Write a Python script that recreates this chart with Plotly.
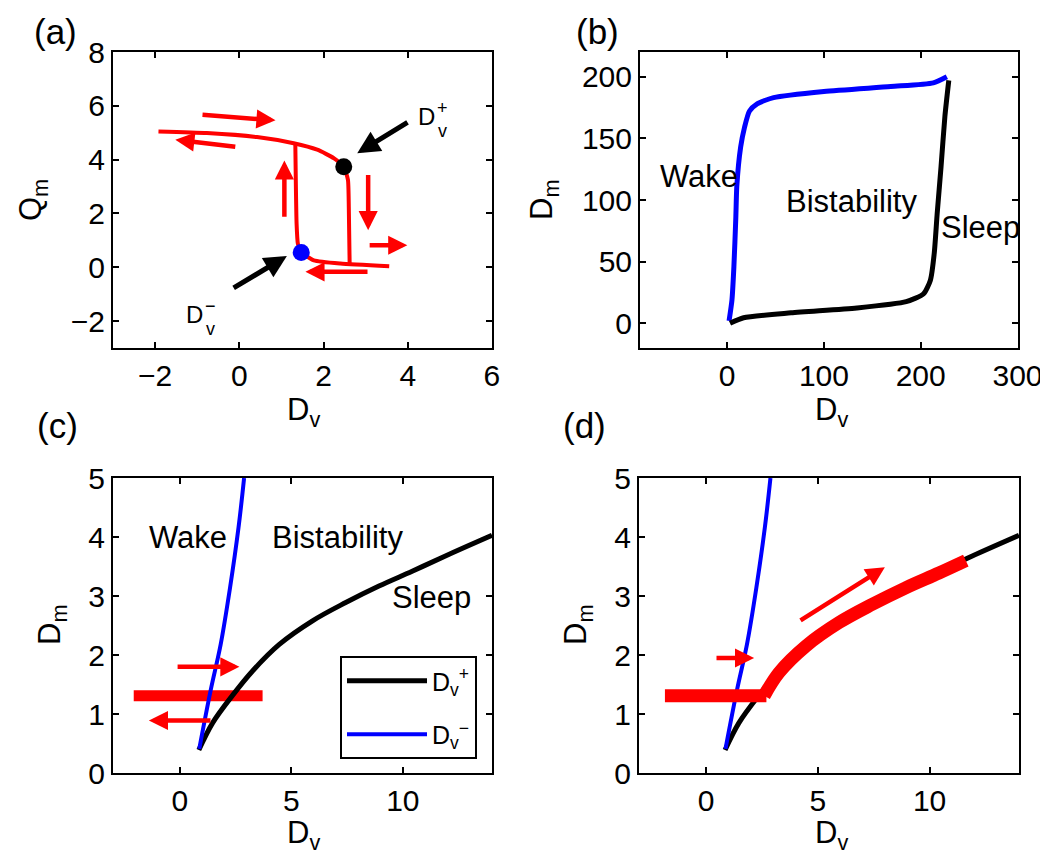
import plotly.graph_objects as go

FONT = "Liberation Sans, Arial, Helvetica, sans-serif"
RED = "#ff0000"
BLUE = "#0000ff"

# ---------------- Panel (a) data ----------------
a_upper_x = [-1.92, -0.77, 0.42, 1.29, 1.85, 2.25, 2.48, 2.58, 2.6, 2.62]
a_upper_y = [5.05, 4.99, 4.84, 4.61, 4.37, 4.05, 3.74, 3.25, 2.25, 0.14]
a_lower_x = [1.47, 1.77, 2.4, 3.56]
a_lower_y = [0.55, 0.26, 0.14, 0.04]
a_left_x = [1.33, 1.36, 1.39, 1.47]
a_left_y = [4.58, 1.63, 0.88, 0.55]
a_dplus = (2.48, 3.74)
a_dminus = (1.47, 0.55)
# arrows: (x_tail, y_tail, x_head, y_head)
a_arrows = [
    (-0.91, 5.67, 0.86, 5.46),
    (-0.06, 4.47, -1.52, 4.74),
    (1.07, 1.82, 1.07, 3.97),
    (3.06, 3.49, 3.06, 1.38),
    (3.06, 0.82, 3.99, 0.82),
    (3.08, -0.17, 1.57, -0.17),
]
a_black_arrows = [
    (4.03, 5.42, 2.8, 4.24),
    (-0.17, -0.8, 1.13, 0.42),
]

# ---------------- Panel (b) data ----------------
b_blue_x = [2, 5, 7, 9, 10, 14, 18, 23, 31, 48, 100, 169, 213, 227]
b_blue_y = [2, 19, 46, 86, 111, 143, 159, 172, 178, 183, 188, 192, 195, 200]
b_black_x = [3, 17, 66, 134, 185, 203, 210, 214, 217, 221, 225, 229]
b_black_y = [0, 4.5, 8.5, 12.5, 17.6, 24, 35, 57, 89, 127, 168, 197]

# ---------------- Panels (c), (d) data ----------------
cd_black_x = [0.85, 1.47, 2.37, 3.26, 4.46, 5.95, 7.44, 8.93, 10.42, 11.91, 14.0]
cd_black_y = [0.39, 0.85, 1.32, 1.73, 2.18, 2.58, 2.89, 3.17, 3.42, 3.68, 4.03]
cd_blue_x = [0.87, 1.38, 1.83, 2.25, 2.63, 2.88]
cd_blue_y = [0.41, 1.40, 2.18, 3.14, 4.16, 5.0]
c_bar_x = [-2.07, 3.71]
c_bar_y = [1.31, 1.31]
c_arrows = [
    (-0.17, 1.80, 2.67, 1.80),
    (1.44, 0.89, -1.39, 0.89),
]
d_red_flat_x = [-1.84, 2.7]
d_red_flat_y = [1.31, 1.31]
d_red_curve_x = [2.6, 3.26, 4.46, 5.95, 7.44, 8.93, 10.42, 11.62]
d_red_curve_y = [1.31, 1.70, 2.15, 2.55, 2.86, 3.14, 3.39, 3.60]
d_arrows = [
    (0.4, 1.95, 2.15, 1.95),
    (4.16, 2.57, 8.0, 3.49),
]

# page geometry: the html body adds an 8px margin around the figure
OFF = 8
W, H = 1040, 848


def px_dom(a, b, total, flip=False):
    a -= OFF
    b -= OFF
    if flip:
        return [1 - b / total, 1 - a / total]
    return [a / total, b / total]


def px_pt(px, py):
    return (px - OFF) / W, 1 - (py - OFF) / H


fig = go.Figure()

# (a)
for xs, ys in [(a_upper_x, a_upper_y), (a_lower_x, a_lower_y), (a_left_x, a_left_y)]:
    fig.add_trace(go.Scatter(x=xs, y=ys, mode="lines",
                             line=dict(color=RED, width=4, shape="spline", smoothing=0.5),
                             xaxis="x", yaxis="y", showlegend=False))
fig.add_trace(go.Scatter(x=[a_dplus[0]], y=[a_dplus[1]], mode="markers", marker=dict(color="black", size=17),
                         xaxis="x", yaxis="y", showlegend=False))
fig.add_trace(go.Scatter(x=[a_dminus[0]], y=[a_dminus[1]], mode="markers", marker=dict(color=BLUE, size=17),
                         xaxis="x", yaxis="y", showlegend=False))

# (b)
fig.add_trace(go.Scatter(x=b_blue_x, y=b_blue_y, mode="lines",
                         line=dict(color=BLUE, width=5, shape="spline", smoothing=0.6),
                         xaxis="x2", yaxis="y2", showlegend=False))
fig.add_trace(go.Scatter(x=b_black_x, y=b_black_y, mode="lines",
                         line=dict(color="black", width=5, shape="spline", smoothing=0.6),
                         xaxis="x2", yaxis="y2", showlegend=False))

# (c)
fig.add_trace(go.Scatter(x=c_bar_x, y=c_bar_y, mode="lines", line=dict(color=RED, width=11),
                         xaxis="x3", yaxis="y3", showlegend=False))
fig.add_trace(go.Scatter(x=cd_black_x, y=cd_black_y, mode="lines",
                         line=dict(color="black", width=5, shape="spline"), legendgroup="p",
                         xaxis="x3", yaxis="y3", name="D<sub>v</sub><sup>+</sup>", showlegend=True))
fig.add_trace(go.Scatter(x=cd_blue_x, y=cd_blue_y, mode="lines",
                         line=dict(color=BLUE, width=4, shape="spline"), legendgroup="m",
                         xaxis="x3", yaxis="y3", name="D<sub>v</sub><sup>\u2212</sup>", showlegend=True))

# (d)
fig.add_trace(go.Scatter(x=cd_black_x, y=cd_black_y, mode="lines",
                         line=dict(color="black", width=5, shape="spline"),
                         xaxis="x4", yaxis="y4", showlegend=False))
fig.add_trace(go.Scatter(x=cd_blue_x, y=cd_blue_y, mode="lines",
                         line=dict(color=BLUE, width=4, shape="spline"),
                         xaxis="x4", yaxis="y4", showlegend=False))
fig.add_trace(go.Scatter(x=d_red_flat_x, y=d_red_flat_y, mode="lines",
                         line=dict(color=RED, width=13),
                         xaxis="x4", yaxis="y4", showlegend=False))
fig.add_trace(go.Scatter(x=d_red_curve_x, y=d_red_curve_y, mode="lines",
                         line=dict(color=RED, width=13, shape="spline"),
                         xaxis="x4", yaxis="y4", showlegend=False))

annotations = []


def arrow(xref, yref, t, color, width, size):
    x0, y0, x1, y1 = t
    annotations.append(dict(x=x1, y=y1, ax=x0, ay=y0, xref=xref, yref=yref, axref=xref, ayref=yref,
                            text="", showarrow=True, arrowhead=2, arrowwidth=width, arrowsize=size,
                            arrowcolor=color, standoff=0, startstandoff=0))


for t in a_arrows:
    arrow("x", "y", t, RED, 4.5, 0.85)
for t in a_black_arrows:
    arrow("x", "y", t, "black", 5, 0.9)
for t in c_arrows:
    arrow("x3", "y3", t, RED, 4.5, 0.85)
for t in d_arrows:
    arrow("x4", "y4", t, RED, 4.5, 0.85)


def text(xref, yref, x, y, s, size=31, xshift=0, yshift=0):
    annotations.append(dict(x=x, y=y, xref=xref, yref=yref, text=s, showarrow=False,
                            xshift=xshift, yshift=yshift,
                            font=dict(family=FONT, size=size, color="black")))


def dv_label(x, y, sign):
    text("x", "y", x, y, "D", 24)
    text("x", "y", x, y, sign, 18, xshift=16, yshift=8)
    text("x", "y", x, y, "v", 18, xshift=16, yshift=-15)


dv_label(4.44, 5.62, "+")
dv_label(-1.07, -1.75, "\u2212")
text("x2", "y2", -29, 119, "Wake")
text("x2", "y2", 129, 99, "Bistability")
text("x2", "y2", 262, 78, "Sleep")
text("x3", "y3", 0.36, 4.0, "Wake")
text("x3", "y3", 7.05, 4.0, "Bistability")
text("x3", "y3", 11.3, 2.98, "Sleep")

for lab, px, py in [("(a)", 55, 31), ("(b)", 597, 31), ("(c)", 57, 425), ("(d)", 584, 425)]:
    xx, yy = px_pt(px, py)
    annotations.append(dict(x=xx, y=yy, xref="paper", yref="paper", text=lab, showarrow=False,
                            xanchor="center", yanchor="middle", font=dict(family=FONT, size=35, color="black")))

# axis titles placed as paper annotations (pixel positions of the reference)
DV = "D<sub>v</sub>"
axis_titles = [
    (DV, 303, 412, 0), (DV, 831, 412, 0), (DV, 303, 835, 0), (DV, 831, 835, 0),
    ("Q<sub>m</sub>", 33, 200, -90), ("D<sub>m</sub>", 544, 200, -90),
    ("D<sub>m</sub>", 52, 625, -90), ("D<sub>m</sub>", 578, 625, -90),
]
for s, px, py, ang in axis_titles:
    xx, yy = px_pt(px, py)
    annotations.append(dict(x=xx, y=yy, xref="paper", yref="paper", text=s, showarrow=False,
                            textangle=ang, xanchor="center", yanchor="middle",
                            font=dict(family=FONT, size=31, color="black")))


def axis(dom, rng, tickvals, anchor):
    return dict(domain=dom, range=rng, tickvals=tickvals, showgrid=False, zeroline=False,
                showline=True, linecolor="black", linewidth=2, mirror="ticks", ticks="inside",
                ticklen=6, tickwidth=2, tickcolor="black", automargin=False,
                tickfont=dict(family=FONT, size=30, color="black"),
                anchor=anchor)


xa_dom = px_dom(113, 492, W)
xb_dom = px_dom(640, 1018, W)
xc_dom = px_dom(113, 492, W)
xd_dom = px_dom(639, 1019, W)
ytop = px_dom(52, 348, H, flip=True)
ybot = px_dom(478, 773, H, flip=True)

lx, ly = px_pt(340, 656)
fig.update_layout(
    width=W, height=H, margin=dict(l=0, r=0, t=0, b=0),
    paper_bgcolor="white", plot_bgcolor="white",
    font=dict(family=FONT, color="black"),
    xaxis=axis(xa_dom, [-3, 6.001], [-2, 0, 2, 4, 6], "y"),
    yaxis=axis(ytop, [-3, 8.001], [-2, 0, 2, 4, 6, 8], "x"),
    xaxis2=axis(xb_dom, [-90, 300.5], [0, 100, 200, 300], "y2"),
    yaxis2=axis(ytop, [-20, 220], [0, 50, 100, 150, 200], "x2"),
    xaxis3=axis(xc_dom, [-3, 14], [0, 5, 10], "y3"),
    yaxis3=axis(ybot, [0, 5.001], [0, 1, 2, 3, 4, 5], "x3"),
    xaxis4=axis(xd_dom, [-3, 14], [0, 5, 10], "y4"),
    yaxis4=axis(ybot, [0, 5.001], [0, 1, 2, 3, 4, 5], "x4"),
    annotations=annotations,
    legend=dict(x=lx, y=ly, xanchor="left", yanchor="top",
                bordercolor="black", borderwidth=2, bgcolor="white", itemwidth=80,
                font=dict(family=FONT, size=25, color="black"), tracegroupgap=18),
    showlegend=True,
)

fig.write_html("out.html")
